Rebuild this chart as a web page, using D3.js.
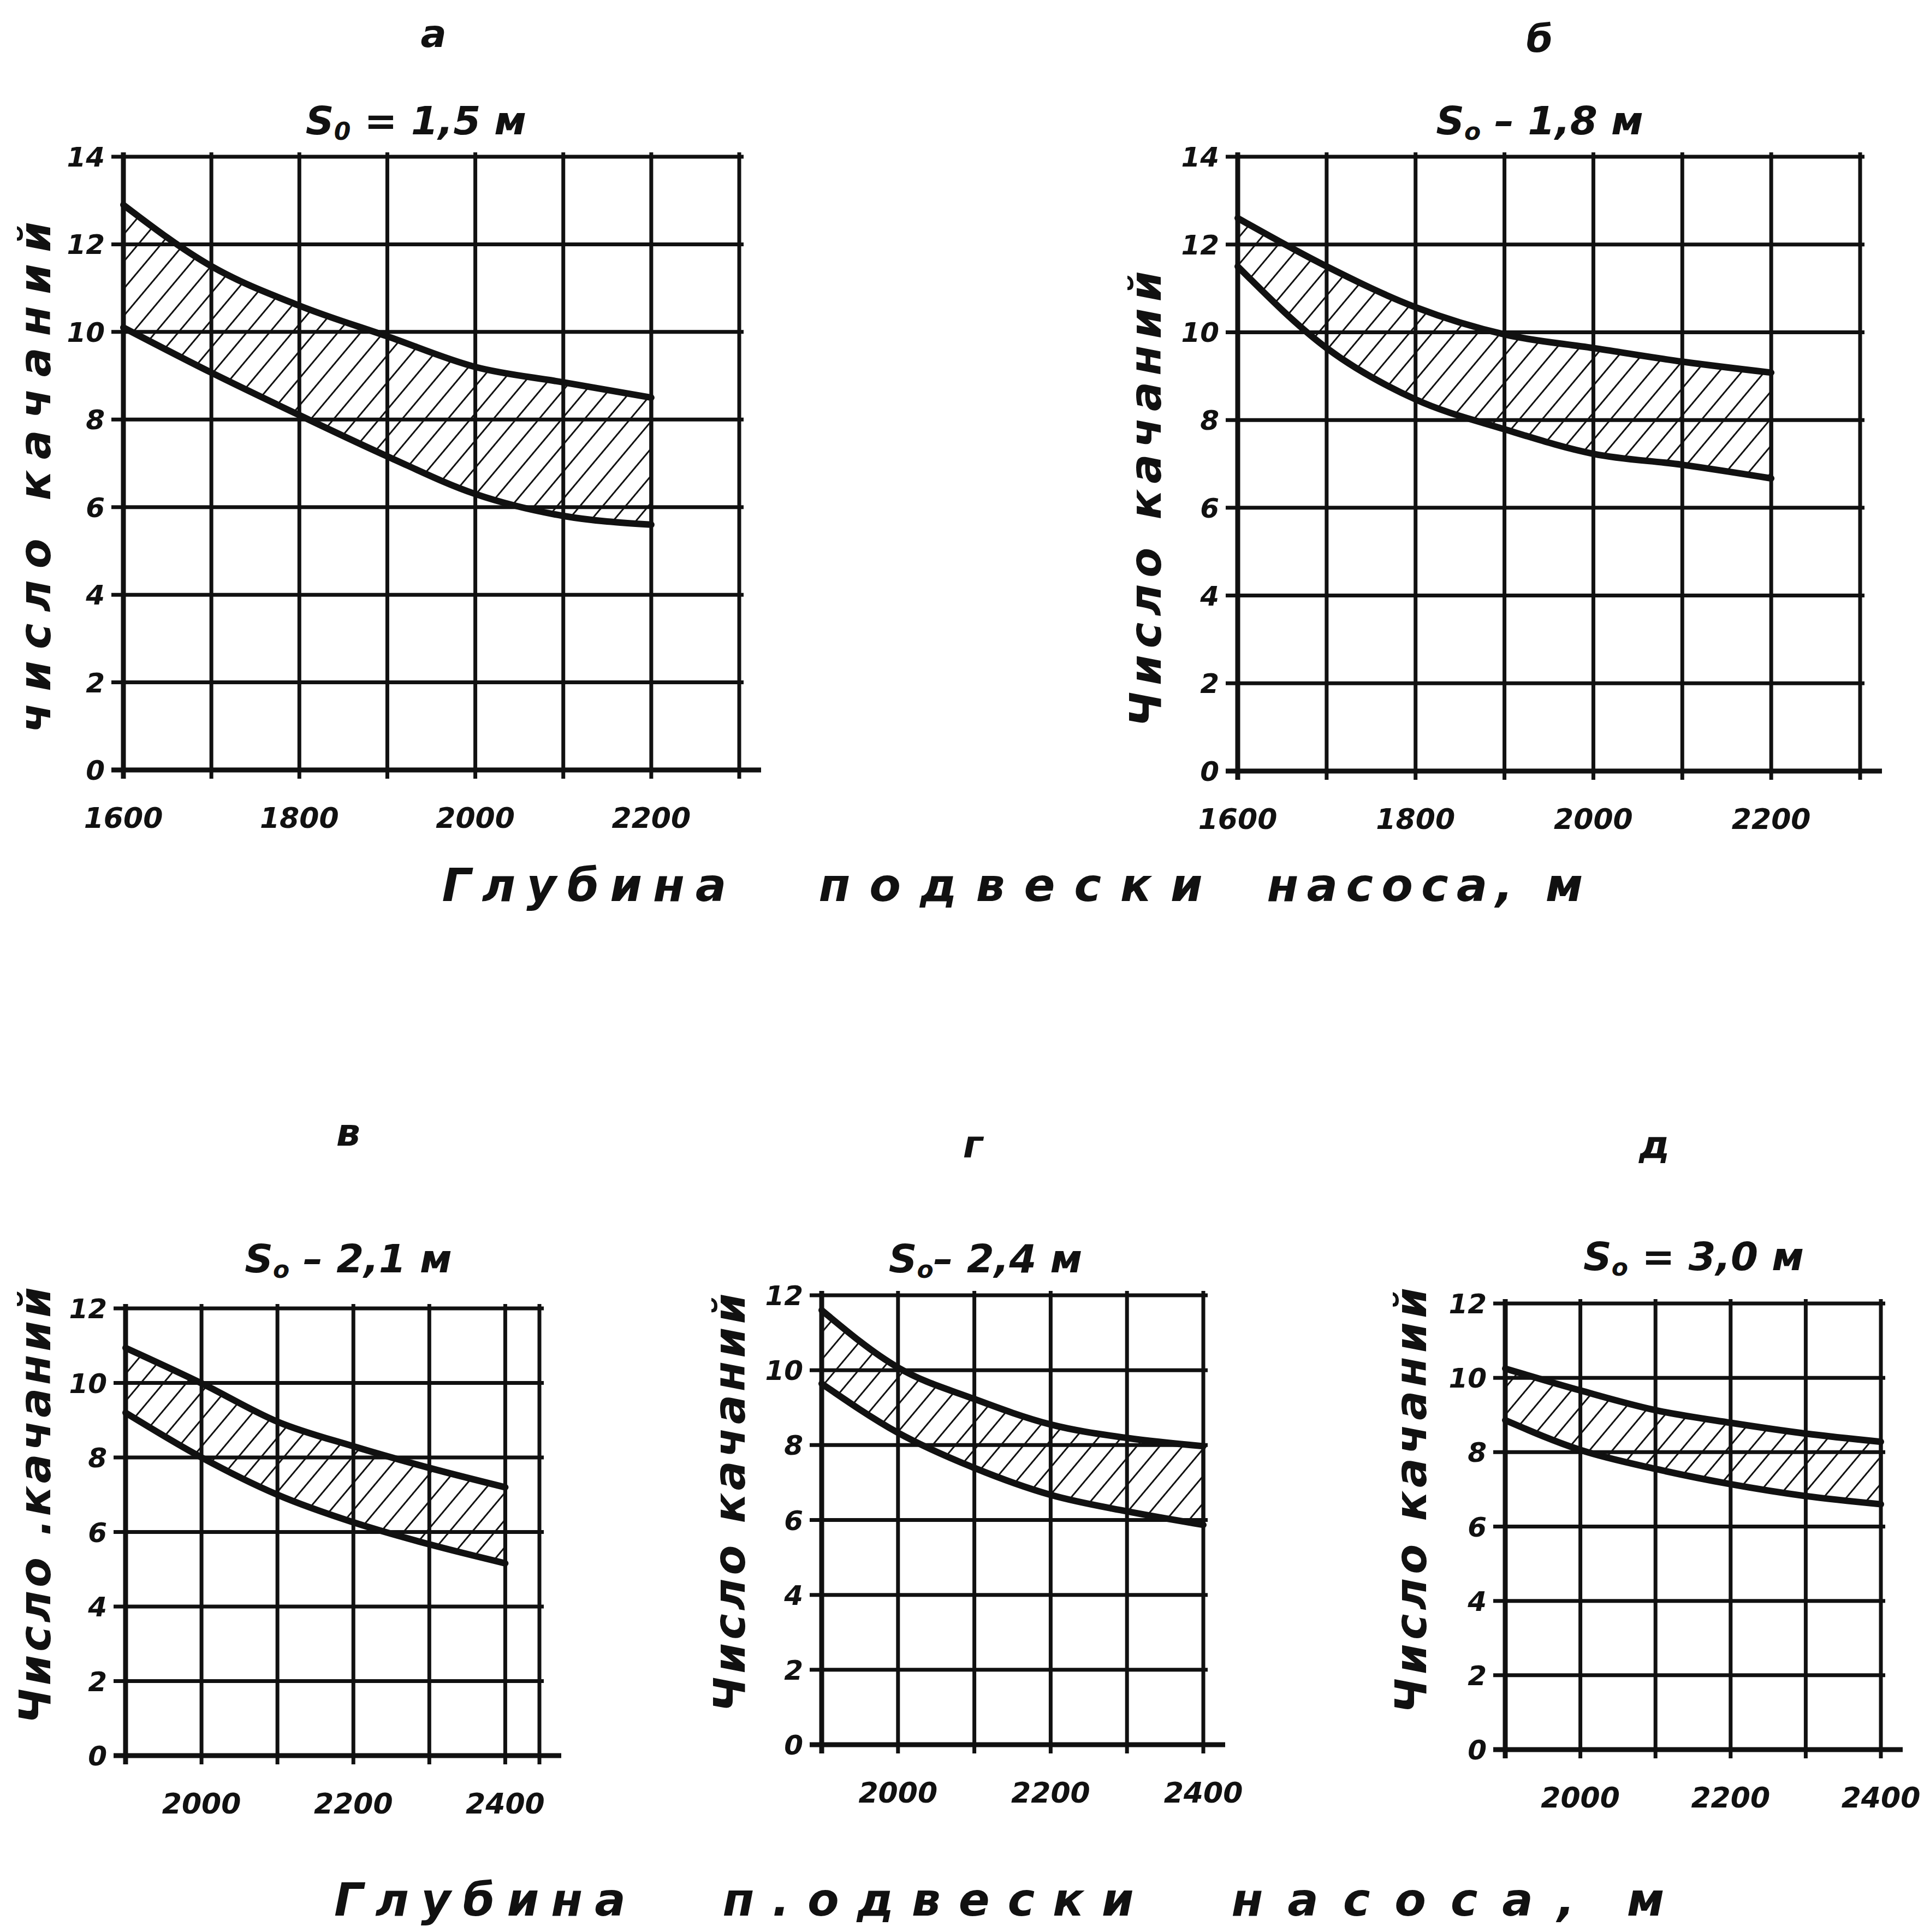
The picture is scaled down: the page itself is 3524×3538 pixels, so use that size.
<!DOCTYPE html>
<html>
<head>
<meta charset="utf-8">
<script src="https://cdn.jsdelivr.net/npm/d3@7"></script>
<style>
  body { margin: 0; background: #fff; }
  text { font-family: "DejaVu Sans", sans-serif; font-weight: bold; font-style: oblique; fill: #111; }
</style>
</head>
<body>
<svg width="3524" height="3538"></svg>
<script>
// depth of the pump (m) and number of strokes
const topDepth = [1600, 1700, 1800, 1900, 2000, 2100, 2200];
const aUpper = [12.9, 11.5, 10.6, 9.9, 9.2, 8.85, 8.5];
const aLower = [10.1, 9.07, 8.1, 7.16, 6.3, 5.8, 5.6];
const bUpper = [12.6, 11.5, 10.57, 9.95, 9.64, 9.33, 9.08];
const bLower = [11.5, 9.64, 8.47, 7.79, 7.23, 6.98, 6.67];

const bottomDepth = [1900, 2000, 2100, 2200, 2300, 2400];
const vUpper = [10.94, 9.99, 8.96, 8.3, 7.72, 7.2];
const vLower = [9.2, 8.0, 7.0, 6.26, 5.67, 5.16];
const gUpper = [11.6, 10.07, 9.23, 8.55, 8.19, 7.97];
const gLower = [9.64, 8.33, 7.39, 6.67, 6.23, 5.87];
const dUpper = [10.25, 9.66, 9.13, 8.79, 8.5, 8.28];
const dLower = [8.86, 8.06, 7.55, 7.14, 6.82, 6.6];

const topXTicks = [1600, 1800, 2000, 2200];
const bottomXTicks = [2000, 2200, 2400];
const topYTicks = [0, 2, 4, 6, 8, 10, 12, 14];
const bottomYTicks = [0, 2, 4, 6, 8, 10, 12];
const topXGrid = [1600, 1700, 1800, 1900, 2000, 2100, 2200, 2300];

const svg = d3.select("svg");
svg.append("rect").attr("width", 3524).attr("height", 3538).attr("fill", "#fff");

// штриховка
svg.append("defs").append("pattern")
  .attr("id", "hatch")
  .attr("patternUnits", "userSpaceOnUse")
  .attr("width", 32).attr("height", 32)
  .attr("patternTransform", "rotate(40)")
  .append("line")
  .attr("x1", 0).attr("y1", 0).attr("x2", 0).attr("y2", 32)
  .attr("stroke", "#111").attr("stroke-width", 6);

// панели: данные + расположение
const panels = [
  { letter: "а", title: ["S", "0", " = 1,5 м"], ylabel: "число качаний",
    depth: topDepth, upper: aUpper, lower: aLower,
    xDom: [1600, 2300], yDom: [0, 14], xGrid: topXGrid, xTicks: topXTicks, yTicks: topYTicks,
    box: { l: 226, r: 1354, t: 287, b: 1410 },
    letterPos: [794, 86], titlePos: [762, 246], ylabelPos: [92, 874, 936] },
  { letter: "б", title: ["S", "o", " – 1,8 м"], ylabel: "Число качаний",
    depth: topDepth, upper: bUpper, lower: bLower,
    xDom: [1600, 2300], yDom: [0, 14], xGrid: topXGrid, xTicks: topXTicks, yTicks: topYTicks,
    box: { l: 2267, r: 3407, t: 287, b: 1412 },
    letterPos: [2820, 95], titlePos: [2820, 246], ylabelPos: [2126, 914, 835] },
  { letter: "в", title: ["S", "o", " – 2,1 м"], ylabel: "Число .качаний",
    depth: bottomDepth, upper: vUpper, lower: vLower,
    xDom: [1900, 2445], yDom: [0, 12], xGrid: [2000, 2100, 2200, 2300, 2400, 2445], xTicks: bottomXTicks, yTicks: bottomYTicks,
    box: { l: 230, r: 988, t: 2396, b: 3215 },
    letterPos: [638, 2098], titlePos: [638, 2330], ylabelPos: [92, 2757, 800] },
  { letter: "г", title: ["S", "o", "– 2,4 м"], ylabel: "Число качаний",
    depth: bottomDepth, upper: gUpper, lower: gLower,
    xDom: [1900, 2400], yDom: [0, 12], xGrid: [2000, 2100, 2200, 2300, 2400], xTicks: bottomXTicks, yTicks: bottomYTicks,
    box: { l: 1505, r: 2204, t: 2372, b: 3195 },
    letterPos: [1782, 2120], titlePos: [1805, 2330], ylabelPos: [1364, 2752, 767] },
  { letter: "д", title: ["S", "o", " = 3,0 м"], ylabel: "Число качаний",
    depth: bottomDepth, upper: dUpper, lower: dLower,
    xDom: [1900, 2400], yDom: [0, 12], xGrid: [2000, 2100, 2200, 2300, 2400], xTicks: bottomXTicks, yTicks: bottomYTicks,
    box: { l: 2757, r: 3445, t: 2387, b: 3204 },
    letterPos: [3030, 2120], titlePos: [3102, 2326], ylabelPos: [2612, 2748, 780] }
];

panels.forEach(p => {
  const x = d3.scaleLinear().domain(p.xDom).range([p.box.l, p.box.r]);
  const y = d3.scaleLinear().domain(p.yDom).range([p.box.b, p.box.t]);
  const g = svg.append("g");

  // сетка
  g.selectAll(".hg").data(p.yTicks).enter().append("line")
    .attr("x1", p.box.l - 22)
    .attr("x2", d => d === 0 ? p.box.r + 40 : p.box.r + 8)
    .attr("y1", d => y(d)).attr("y2", d => y(d))
    .attr("stroke", "#111").attr("stroke-width", d => d === 0 ? 9 : 7);

  g.selectAll(".vg").data([p.xDom[0]].concat(p.xGrid)).enter().append("line")
    .attr("x1", d => x(d)).attr("x2", d => x(d))
    .attr("y1", p.box.t - 8).attr("y2", p.box.b + 16)
    .attr("stroke", "#111").attr("stroke-width", (d, i) => i === 0 ? 9 : 7);

  // заштрихованная область
  const data = p.depth.map((d, i) => ({ d, hi: p.upper[i], lo: p.lower[i] }));
  const area = d3.area()
    .x(d => x(d.d)).y0(d => y(d.lo)).y1(d => y(d.hi))
    .curve(d3.curveMonotoneX);
  g.append("path").datum(data).attr("d", area).attr("fill", "url(#hatch)");

  const line = d3.line().x(d => x(d[0])).y(d => y(d[1])).curve(d3.curveMonotoneX);
  [p.upper, p.lower].forEach(s => {
    g.append("path").datum(p.depth.map((d, i) => [d, s[i]]))
      .attr("d", line).attr("fill", "none")
      .attr("stroke", "#111").attr("stroke-width", 12)
      .attr("stroke-linecap", "round");
  });
  const last = data[data.length - 1];
  g.append("line")
    .attr("x1", x(last.d)).attr("x2", x(last.d))
    .attr("y1", y(last.hi)).attr("y2", y(last.lo))
    .attr("stroke", "#111").attr("stroke-width", 7);

  // подписи делений
  g.selectAll(".yl").data(p.yTicks).enter().append("text")
    .attr("x", p.box.l - 34).attr("y", d => y(d) + 18)
    .attr("text-anchor", "end").attr("font-size", 50)
    .text(d => d);
  g.selectAll(".xl").data(p.xTicks).enter().append("text")
    .attr("x", d => x(d)).attr("y", p.box.b + 106)
    .attr("text-anchor", "middle").attr("font-size", 52)
    .text(d => d);

  // заголовки
  g.append("text").attr("x", p.letterPos[0]).attr("y", p.letterPos[1])
    .attr("text-anchor", "middle").attr("font-size", 70).text(p.letter);
  const t = g.append("text").attr("x", p.titlePos[0]).attr("y", p.titlePos[1])
    .attr("text-anchor", "middle").attr("font-size", 72);
  t.append("tspan").text(p.title[0]);
  t.append("tspan").attr("font-size", 44).attr("dy", 10).text(p.title[1]);
  t.append("tspan").attr("dy", -10).text(p.title[2]);

  g.append("text")
    .attr("transform", `translate(${p.ylabelPos[0]},${p.ylabelPos[1]}) rotate(-90)`)
    .attr("text-anchor", "middle").attr("font-size", 80)
    .attr("textLength", p.ylabelPos[2]).attr("lengthAdjust", "spacing")
    .text(p.ylabel);
});

// общие подписи оси X (слово, центр, ширина)
const xWordsTop = [["Глубина", 1070, 521], ["подвески", 1851, 703], ["насоса, м", 2610, 579]];
const xWordsBottom = [["Глубина", 879, 534], ["п.одвески", 1700, 753], ["насоса,", 2570, 629], ["м", 3014, 60]];
[[xWordsTop, 1650], [xWordsBottom, 3508]].forEach(([words, yy]) => {
  svg.selectAll(null).data(words).enter().append("text")
    .attr("x", d => d[1]).attr("y", yy)
    .attr("text-anchor", "middle").attr("font-size", 84)
    .attr("textLength", d => d[2]).attr("lengthAdjust", "spacing")
    .text(d => d[0]);
});
</script>
</body>
</html>
